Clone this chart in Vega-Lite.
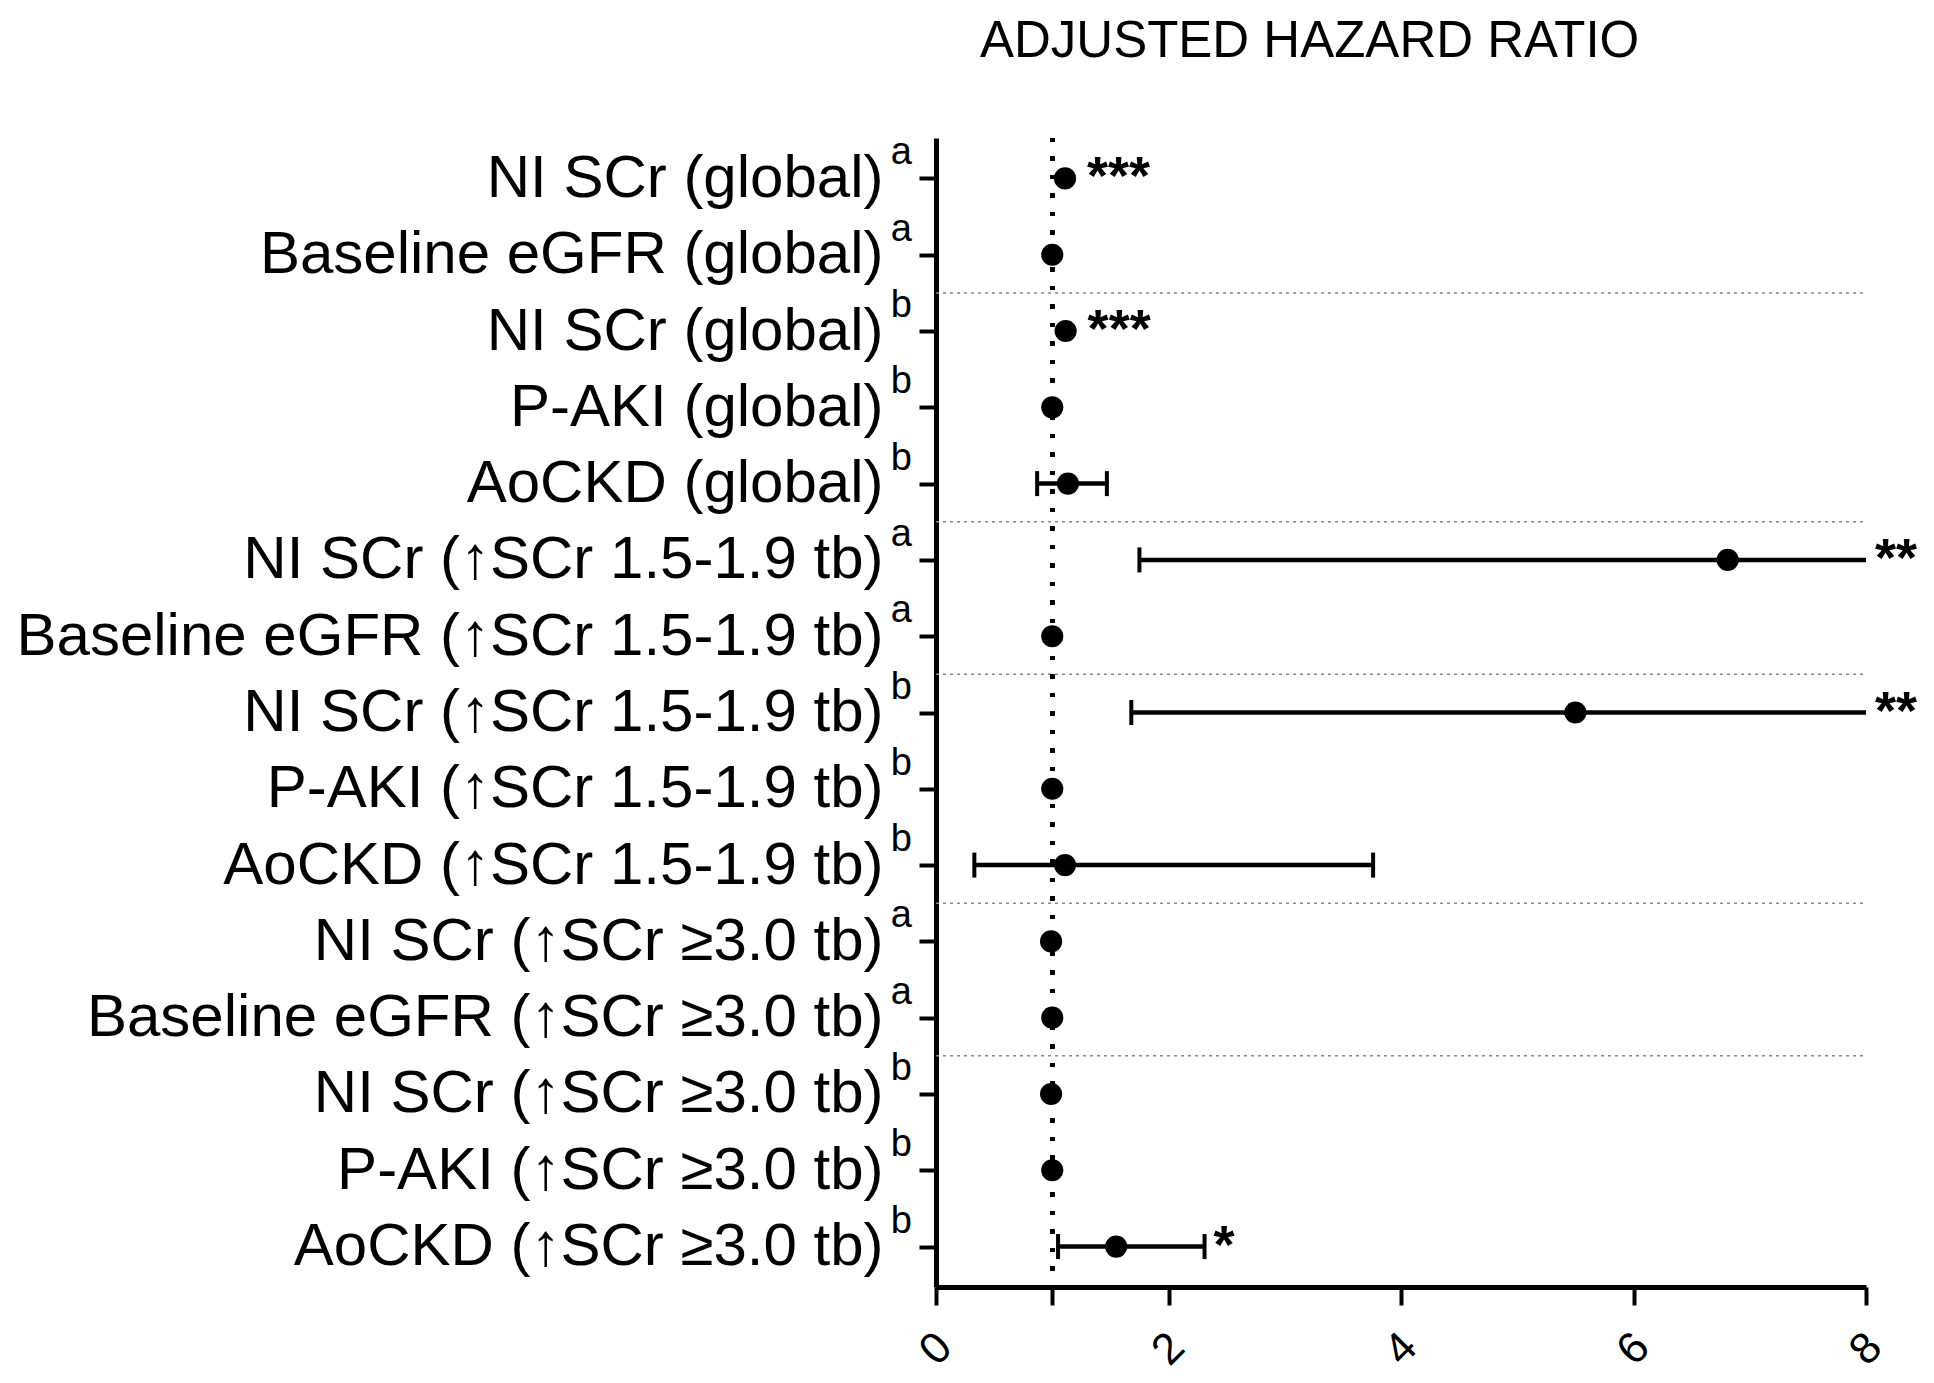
{
  "$schema": "https://vega.github.io/schema/vega-lite/v6.json",
  "autosize": "none",
  "width": 930,
  "height": 1149,
  "padding": {"left": 936, "top": 138, "right": 68, "bottom": 96},
  "background": "white",
  "config": {
    "font": "Liberation Sans",
    "view": {"stroke": null},
    "axis": {"grid": false, "domainColor": "black", "tickColor": "black", "labelColor": "black"}
  },
  "title": {
    "text": "ADJUSTED HAZARD RATIO",
    "fontSize": 51,
    "fontWeight": "normal",
    "color": "black",
    "anchor": "start",
    "dx": 44,
    "frame": "group",
    "baseline": "alphabetic",
    "offset": 26
  },
  "data": {
    "values": [
      {"label": "NI SCr (global)^a", "sup": "a", "group": "global a", "hr": 1.11, "star": "***"},
      {"label": "Baseline eGFR (global)^a", "sup": "a", "group": "global a", "hr": 1.0},
      {"label": "NI SCr (global)^b", "sup": "b", "group": "global b", "hr": 1.115, "star": "***"},
      {"label": "P-AKI (global)^b", "sup": "b", "group": "global b", "hr": 1.0},
      {"label": "AoCKD (global)^b", "sup": "b", "group": "global b", "hr": 1.135, "lo": 0.87, "hi": 1.47},
      {"label": "NI SCr (↑SCr 1.5-1.9 tb)^a", "sup": "a", "group": "1.5 a", "hr": 6.81, "lo": 1.75, "hi": 8, "star": "**"},
      {"label": "Baseline eGFR (↑SCr 1.5-1.9 tb)^a", "sup": "a", "group": "1.5 a", "hr": 1.0},
      {"label": "NI SCr (↑SCr 1.5-1.9 tb)^b", "sup": "b", "group": "1.5 b", "hr": 5.5, "lo": 1.68, "hi": 8, "star": "**"},
      {"label": "P-AKI (↑SCr 1.5-1.9 tb)^b", "sup": "b", "group": "1.5 b", "hr": 1.0},
      {"label": "AoCKD (↑SCr 1.5-1.9 tb)^b", "sup": "b", "group": "1.5 b", "hr": 1.11, "lo": 0.33, "hi": 3.76},
      {"label": "NI SCr (↑SCr ≥3.0 tb)^a", "sup": "a", "group": "3.0 a", "hr": 0.99},
      {"label": "Baseline eGFR (↑SCr ≥3.0 tb)^a", "sup": "a", "group": "3.0 a", "hr": 1.0},
      {"label": "NI SCr (↑SCr ≥3.0 tb)^b", "sup": "b", "group": "3.0 b", "hr": 0.99},
      {"label": "P-AKI (↑SCr ≥3.0 tb)^b", "sup": "b", "group": "3.0 b", "hr": 1.0},
      {"label": "AoCKD (↑SCr ≥3.0 tb)^b", "sup": "b", "group": "3.0 b", "hr": 1.55, "lo": 1.05, "hi": 2.31, "star": "*"}
    ]
  },
  "encoding": {
    "y": {
      "field": "label",
      "type": "nominal",
      "sort": null,
      "scale": {
        "type": "point",
        "padding": 0.53,
        "domain": [
          "NI SCr (global)^a",
          "Baseline eGFR (global)^a",
          "NI SCr (global)^b",
          "P-AKI (global)^b",
          "AoCKD (global)^b",
          "NI SCr (↑SCr 1.5-1.9 tb)^a",
          "Baseline eGFR (↑SCr 1.5-1.9 tb)^a",
          "NI SCr (↑SCr 1.5-1.9 tb)^b",
          "P-AKI (↑SCr 1.5-1.9 tb)^b",
          "AoCKD (↑SCr 1.5-1.9 tb)^b",
          "NI SCr (↑SCr ≥3.0 tb)^a",
          "Baseline eGFR (↑SCr ≥3.0 tb)^a",
          "NI SCr (↑SCr ≥3.0 tb)^b",
          "P-AKI (↑SCr ≥3.0 tb)^b",
          "AoCKD (↑SCr ≥3.0 tb)^b"
        ]
      },
      "axis": {
        "title": null,
        "labelExpr": "split(datum.label, '^')[0]",
        "labelFontSize": 60,
        "labelLimit": 2000,
        "labelPadding": 36,
        "labelBaseline": "middle",
        "domainWidth": 5,
        "tickWidth": 4,
        "tickSize": 17
      }
    }
  },
  "layer": [
    {
      "transform": [
        {"window": [{"op": "row_number", "as": "rn"}], "groupby": ["group"]},
        {"filter": "datum.rn == 1 && datum.group != 'global a'"}
      ],
      "mark": {"type": "rule", "color": "#888888", "strokeWidth": 1.5, "strokeDash": [3, 4], "yOffset": -38.15},
      "encoding": {"x": {"datum": 0}, "x2": {"datum": 8}}
    },
    {
      "mark": {"type": "rule", "color": "black", "strokeWidth": 4, "strokeDash": [4, 14.5]},
      "encoding": {
        "x": {"datum": 1, "type": "quantitative"},
        "y": null
      }
    },
    {
      "transform": [{"filter": "isValid(datum.lo)"}],
      "mark": {"type": "rule", "color": "black", "strokeWidth": 4.5, "opacity": 1},
      "encoding": {"x": {"field": "lo", "type": "quantitative"}, "x2": {"field": "hi"}}
    },
    {
      "transform": [{"filter": "isValid(datum.lo)"}],
      "mark": {"type": "tick", "color": "black", "opacity": 1, "thickness": 4, "size": 25, "orient": "vertical"},
      "encoding": {"x": {"field": "lo", "type": "quantitative"}}
    },
    {
      "transform": [{"filter": "isValid(datum.hi) && datum.hi < 8"}],
      "mark": {"type": "tick", "color": "black", "opacity": 1, "thickness": 4, "size": 25, "orient": "vertical"},
      "encoding": {"x": {"field": "hi", "type": "quantitative"}}
    },
    {
      "mark": {"type": "point", "shape": "circle", "filled": true, "color": "black", "opacity": 1, "size": 490},
      "encoding": {
        "x": {
          "field": "hr",
          "type": "quantitative",
          "scale": {"domain": [0, 8], "nice": false, "zero": false},
          "axis": {
            "title": null,
            "values": [0, 1, 2, 4, 6, 8],
            "labelExpr": "datum.value == 1 ? '' : format(datum.value, 'd')",
            "labelAngle": -45,
            "labelAlign": "center",
            "labelBaseline": "middle",
            "labelFontSize": 44,
            "labelPadding": 44,
            "domainWidth": 5,
            "tickWidth": 4,
            "tickSize": 18
          }
        }
      }
    },
    {
      "transform": [{"filter": "isValid(datum.star) && isValid(datum.hi)"}],
      "mark": {"type": "text", "fontSize": 54, "fontWeight": "bold", "align": "left", "baseline": "alphabetic", "dx": 9, "dy": 16, "color": "black"},
      "encoding": {"x": {"field": "hi", "type": "quantitative"}, "text": {"field": "star"}}
    },
    {
      "transform": [{"filter": "isValid(datum.star) && !isValid(datum.hi)"}],
      "mark": {"type": "text", "fontSize": 54, "fontWeight": "bold", "align": "left", "baseline": "alphabetic", "dx": 22, "dy": 16, "color": "black"},
      "encoding": {"x": {"field": "hr", "type": "quantitative"}, "text": {"field": "star"}}
    },
    {
      "mark": {"type": "text", "fontSize": 38, "align": "right", "baseline": "alphabetic", "dx": -24, "dy": -14, "color": "black"},
      "encoding": {"x": {"datum": 0}, "text": {"field": "sup"}}
    }
  ]
}
